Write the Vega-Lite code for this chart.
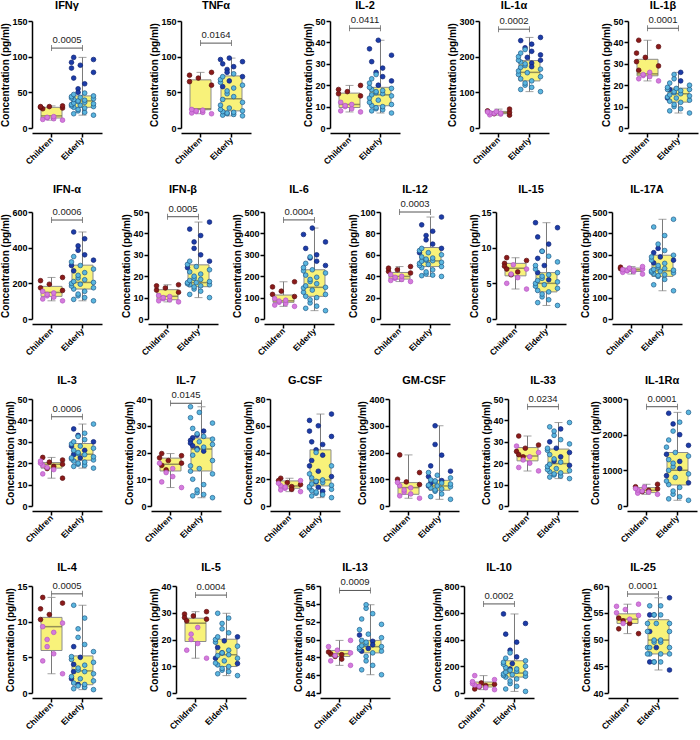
{
"background":"white",
"padding":{"left":0,"top":0,"right":2,"bottom":0},
"spacing":18,
"data":{"values":[
{"p":"IFNγ","d0":0,"d1":150,"b":112,"t":"0.0005"},
{"p":"TNFα","d0":0,"d1":150,"b":119,"t":"0.0164"},
{"p":"IL-2","d0":0,"d1":50,"b":46.6,"t":"0.0411"},
{"p":"IL-1α","d0":0,"d1":300,"b":277,"t":"0.0002"},
{"p":"IL-1β","d0":0,"d1":50,"b":46.6,"t":"0.0001"},
{"p":"IFN-α","d0":0,"d1":600,"b":555,"t":"0.0006"},
{"p":"IFN-β","d0":0,"d1":50,"b":47.8,"t":"0.0005"},
{"p":"IL-6","d0":0,"d1":500,"b":463,"t":"0.0004"},
{"p":"IL-12","d0":0,"d1":100,"b":100,"t":"0.0003"},
{"p":"IL-15","d0":0,"d1":15},
{"p":"IL-17A","d0":0,"d1":500},
{"p":"IL-3","d0":0,"d1":50,"b":41.7,"t":"0.0006"},
{"p":"IL-7","d0":0,"d1":40,"b":38.4,"t":"0.0145"},
{"p":"G-CSF","d0":0,"d1":80},
{"p":"GM-CSF","d0":0,"d1":400},
{"p":"IL-33","d0":0,"d1":50,"b":46.4,"t":"0.0234"},
{"p":"IL-1Rα","d0":0,"d1":3000,"b":2784,"t":"0.0001"},
{"p":"IL-4","d0":0,"d1":15,"b":13.9,"t":"0.0005"},
{"p":"IL-5","d0":0,"d1":40,"b":36.6,"t":"0.0004"},
{"p":"IL-13","d0":44,"d1":56,"b":55.5,"t":"0.0009"},
{"p":"IL-10","d0":0,"d1":800,"b":666,"t":"0.0002"},
{"p":"IL-25","d0":40,"d1":60,"b":58.5,"t":"0.0001"},
{"p":"IFNγ","g":"Children","lo":11,"q1":14,"md":17,"q3":29,"hi":31},
{"p":"IFNγ","g":"Elderly","lo":18,"q1":29,"md":38,"q3":45,"hi":99},
{"p":"TNFα","g":"Children","lo":20,"q1":25.6,"md":27,"q3":67.5,"hi":78},
{"p":"TNFα","g":"Elderly","lo":17,"q1":24,"md":41,"q3":73,"hi":98},
{"p":"IL-2","g":"Children","lo":7.5,"q1":9.6,"md":11,"q3":16.3,"hi":19.9},
{"p":"IL-2","g":"Elderly","lo":7,"q1":10.4,"md":15.5,"q3":19,"hi":41},
{"p":"IL-1α","g":"Children","lo":36,"q1":40,"md":43,"q3":46.6,"hi":53},
{"p":"IL-1α","g":"Elderly","lo":102,"q1":132,"md":156,"q3":189,"hi":254},
{"p":"IL-1β","g":"Children","lo":22,"q1":24.4,"md":25.3,"q3":32.1,"hi":41},
{"p":"IL-1β","g":"Elderly","lo":7,"q1":12.1,"md":16,"q3":18.6,"hi":26},
{"p":"IFN-α","g":"Children","lo":102,"q1":127,"md":149,"q3":183,"hi":233},
{"p":"IFN-α","g":"Elderly","lo":102,"q1":168,"md":205,"q3":302,"hi":488},
{"p":"IFN-β","g":"Children","lo":8,"q1":9,"md":10.6,"q3":13.7,"hi":16},
{"p":"IFN-β","g":"Elderly","lo":10,"q1":15.1,"md":17,"q3":25.3,"hi":45.3},
{"p":"IL-6","g":"Children","lo":59,"q1":78,"md":85,"q3":112,"hi":174},
{"p":"IL-6","g":"Elderly","lo":39,"q1":106,"md":148,"q3":230,"hi":425},
{"p":"IL-12","g":"Children","lo":35,"q1":37.3,"md":39.8,"q3":43.5,"hi":49},
{"p":"IL-12","g":"Elderly","lo":39.8,"q1":49,"md":54.3,"q3":66.8,"hi":95.3},
{"p":"IL-15","g":"Children","lo":4.2,"q1":6.05,"md":7.1,"q3":7.8,"hi":8.6},
{"p":"IL-15","g":"Elderly","lo":1.9,"q1":3.8,"md":5,"q3":6.5,"hi":13.5},
{"p":"IL-17A","g":"Children","lo":210,"q1":222,"md":230,"q3":238,"hi":245},
{"p":"IL-17A","g":"Elderly","lo":132,"q1":199,"md":225,"q3":298,"hi":466},
{"p":"IL-3","g":"Children","lo":13,"q1":17.7,"md":19.5,"q3":20.3,"hi":22.7},
{"p":"IL-3","g":"Elderly","lo":17.7,"q1":21.4,"md":24.2,"q3":29.2,"hi":38.3},
{"p":"IL-7","g":"Children","lo":6.9,"q1":13.1,"md":15.6,"q3":17.9,"hi":19.6},
{"p":"IL-7","g":"Elderly","lo":3.1,"q1":13.1,"md":21.3,"q3":25.4,"hi":37.1},
{"p":"G-CSF","g":"Children","lo":10.75,"q1":13.25,"md":15,"q3":18.75,"hi":20.75},
{"p":"G-CSF","g":"Elderly","lo":6.25,"q1":15,"md":19.5,"q3":42,"hi":68.75},
{"p":"GM-CSF","g":"Children","lo":29,"q1":43.75,"md":68.75,"q3":87.5,"hi":191},
{"p":"GM-CSF","g":"Elderly","lo":25,"q1":59,"md":75,"q3":96,"hi":300},
{"p":"IL-33","g":"Children","lo":16.4,"q1":21.1,"md":23.4,"q3":27.3,"hi":32.7},
{"p":"IL-33","g":"Elderly","lo":12.8,"q1":15.3,"md":19.8,"q3":26.6,"hi":39},
{"p":"IL-1Rα","g":"Children","lo":328,"q1":375,"md":440,"q3":516,"hi":609},
{"p":"IL-1Rα","g":"Elderly","lo":160,"q1":590,"md":1003,"q3":1500,"hi":2625},
{"p":"IL-4","g":"Children","lo":2.7,"q1":5.96,"md":9.3,"q3":10.6,"hi":13.4},
{"p":"IL-4","g":"Elderly","lo":0.47,"q1":1.16,"md":3.1,"q3":5.2,"hi":12.3},
{"p":"IL-5","g":"Children","lo":13,"q1":19.25,"md":26.1,"q3":27.95,"hi":30.4},
{"p":"IL-5","g":"Elderly","lo":6.5,"q1":9.9,"md":14.3,"q3":20.1,"hi":29.8},
{"p":"IL-13","g":"Children","lo":47.1,"q1":48.1,"md":48.4,"q3":48.77,"hi":49.9},
{"p":"IL-13","g":"Elderly","lo":46.05,"q1":48.5,"md":49.2,"q3":49.9,"hi":53.9},
{"p":"IL-10","g":"Children","lo":25,"q1":45,"md":62,"q3":82,"hi":130},
{"p":"IL-10","g":"Elderly","lo":12,"q1":119,"md":149,"q3":241,"hi":591},
{"p":"IL-25","g":"Children","lo":51.1,"q1":53,"md":53.8,"q3":54.8,"hi":56.6},
{"p":"IL-25","g":"Elderly","lo":44.3,"q1":47.3,"md":49.9,"q3":53.7,"hi":57.8},
{"p":"IFNγ","g":"Children","c":"a","v":27},{"p":"IFNγ","g":"Children","c":"a","v":28},{"p":"IFNγ","g":"Children","c":"a","v":29},{"p":"IFNγ","g":"Children","c":"a","v":30},{"p":"IFNγ","g":"Children","c":"a","v":30},{"p":"IFNγ","g":"Children","c":"a","v":31},
{"p":"IFNγ","g":"Children","c":"b","v":11},{"p":"IFNγ","g":"Children","c":"b","v":12},{"p":"IFNγ","g":"Children","c":"b","v":13},{"p":"IFNγ","g":"Children","c":"b","v":14},{"p":"IFNγ","g":"Children","c":"b","v":15},{"p":"IFNγ","g":"Children","c":"b","v":16},
{"p":"IFNγ","g":"Elderly","c":"a","v":99},{"p":"IFNγ","g":"Elderly","c":"a","v":96},{"p":"IFNγ","g":"Elderly","c":"a","v":92},{"p":"IFNγ","g":"Elderly","c":"a","v":88},{"p":"IFNγ","g":"Elderly","c":"a","v":84},{"p":"IFNγ","g":"Elderly","c":"a","v":78},{"p":"IFNγ","g":"Elderly","c":"a","v":70},{"p":"IFNγ","g":"Elderly","c":"a","v":62},{"p":"IFNγ","g":"Elderly","c":"a","v":55},{"p":"IFNγ","g":"Elderly","c":"a","v":50},
{"p":"IFNγ","g":"Elderly","c":"b","v":18},{"p":"IFNγ","g":"Elderly","c":"b","v":20},{"p":"IFNγ","g":"Elderly","c":"b","v":22},{"p":"IFNγ","g":"Elderly","c":"b","v":24},{"p":"IFNγ","g":"Elderly","c":"b","v":26},{"p":"IFNγ","g":"Elderly","c":"b","v":28},{"p":"IFNγ","g":"Elderly","c":"b","v":29},{"p":"IFNγ","g":"Elderly","c":"b","v":30},{"p":"IFNγ","g":"Elderly","c":"b","v":31},{"p":"IFNγ","g":"Elderly","c":"b","v":32},{"p":"IFNγ","g":"Elderly","c":"b","v":33},{"p":"IFNγ","g":"Elderly","c":"b","v":34},{"p":"IFNγ","g":"Elderly","c":"b","v":35},{"p":"IFNγ","g":"Elderly","c":"b","v":36},{"p":"IFNγ","g":"Elderly","c":"b","v":37},{"p":"IFNγ","g":"Elderly","c":"b","v":38},{"p":"IFNγ","g":"Elderly","c":"b","v":39},{"p":"IFNγ","g":"Elderly","c":"b","v":40},{"p":"IFNγ","g":"Elderly","c":"b","v":41},{"p":"IFNγ","g":"Elderly","c":"b","v":42},{"p":"IFNγ","g":"Elderly","c":"b","v":43},{"p":"IFNγ","g":"Elderly","c":"b","v":44},{"p":"IFNγ","g":"Elderly","c":"b","v":45},{"p":"IFNγ","g":"Elderly","c":"b","v":47},{"p":"IFNγ","g":"Elderly","c":"b","v":49},
{"p":"TNFα","g":"Children","c":"a","v":60},{"p":"TNFα","g":"Children","c":"a","v":65},{"p":"TNFα","g":"Children","c":"a","v":70},{"p":"TNFα","g":"Children","c":"a","v":74},{"p":"TNFα","g":"Children","c":"a","v":78},
{"p":"TNFα","g":"Children","c":"b","v":20},{"p":"TNFα","g":"Children","c":"b","v":21},{"p":"TNFα","g":"Children","c":"b","v":22},{"p":"TNFα","g":"Children","c":"b","v":23},{"p":"TNFα","g":"Children","c":"b","v":24},{"p":"TNFα","g":"Children","c":"b","v":25},{"p":"TNFα","g":"Children","c":"b","v":26},
{"p":"TNFα","g":"Elderly","c":"a","v":98},{"p":"TNFα","g":"Elderly","c":"a","v":96},{"p":"TNFα","g":"Elderly","c":"a","v":93},{"p":"TNFα","g":"Elderly","c":"a","v":90},{"p":"TNFα","g":"Elderly","c":"a","v":86},{"p":"TNFα","g":"Elderly","c":"a","v":82},{"p":"TNFα","g":"Elderly","c":"a","v":78},{"p":"TNFα","g":"Elderly","c":"a","v":72},{"p":"TNFα","g":"Elderly","c":"a","v":66},{"p":"TNFα","g":"Elderly","c":"a","v":58},
{"p":"TNFα","g":"Elderly","c":"b","v":17},{"p":"TNFα","g":"Elderly","c":"b","v":18},{"p":"TNFα","g":"Elderly","c":"b","v":19},{"p":"TNFα","g":"Elderly","c":"b","v":20},{"p":"TNFα","g":"Elderly","c":"b","v":21},{"p":"TNFα","g":"Elderly","c":"b","v":22},{"p":"TNFα","g":"Elderly","c":"b","v":23},{"p":"TNFα","g":"Elderly","c":"b","v":24},{"p":"TNFα","g":"Elderly","c":"b","v":26},{"p":"TNFα","g":"Elderly","c":"b","v":28},{"p":"TNFα","g":"Elderly","c":"b","v":32},{"p":"TNFα","g":"Elderly","c":"b","v":36},{"p":"TNFα","g":"Elderly","c":"b","v":40},{"p":"TNFα","g":"Elderly","c":"b","v":44},{"p":"TNFα","g":"Elderly","c":"b","v":48},{"p":"TNFα","g":"Elderly","c":"b","v":52},{"p":"TNFα","g":"Elderly","c":"b","v":56},{"p":"TNFα","g":"Elderly","c":"b","v":60},{"p":"TNFα","g":"Elderly","c":"b","v":64},{"p":"TNFα","g":"Elderly","c":"b","v":68},{"p":"TNFα","g":"Elderly","c":"b","v":72},{"p":"TNFα","g":"Elderly","c":"b","v":76},
{"p":"IL-2","g":"Children","c":"a","v":15},{"p":"IL-2","g":"Children","c":"a","v":16},{"p":"IL-2","g":"Children","c":"a","v":17},{"p":"IL-2","g":"Children","c":"a","v":18},{"p":"IL-2","g":"Children","c":"a","v":19.9},
{"p":"IL-2","g":"Children","c":"b","v":7.5},{"p":"IL-2","g":"Children","c":"b","v":8},{"p":"IL-2","g":"Children","c":"b","v":9},{"p":"IL-2","g":"Children","c":"b","v":10},{"p":"IL-2","g":"Children","c":"b","v":10.5},{"p":"IL-2","g":"Children","c":"b","v":11},{"p":"IL-2","g":"Children","c":"b","v":12},
{"p":"IL-2","g":"Elderly","c":"a","v":41},{"p":"IL-2","g":"Elderly","c":"a","v":37},{"p":"IL-2","g":"Elderly","c":"a","v":34},{"p":"IL-2","g":"Elderly","c":"a","v":31},{"p":"IL-2","g":"Elderly","c":"a","v":28},{"p":"IL-2","g":"Elderly","c":"a","v":26},{"p":"IL-2","g":"Elderly","c":"a","v":24},{"p":"IL-2","g":"Elderly","c":"a","v":22},{"p":"IL-2","g":"Elderly","c":"a","v":20},
{"p":"IL-2","g":"Elderly","c":"b","v":7},{"p":"IL-2","g":"Elderly","c":"b","v":8},{"p":"IL-2","g":"Elderly","c":"b","v":8.5},{"p":"IL-2","g":"Elderly","c":"b","v":9},{"p":"IL-2","g":"Elderly","c":"b","v":9.5},{"p":"IL-2","g":"Elderly","c":"b","v":10},{"p":"IL-2","g":"Elderly","c":"b","v":10.5},{"p":"IL-2","g":"Elderly","c":"b","v":11},{"p":"IL-2","g":"Elderly","c":"b","v":12},{"p":"IL-2","g":"Elderly","c":"b","v":13},{"p":"IL-2","g":"Elderly","c":"b","v":14},{"p":"IL-2","g":"Elderly","c":"b","v":15},{"p":"IL-2","g":"Elderly","c":"b","v":15.5},{"p":"IL-2","g":"Elderly","c":"b","v":16},{"p":"IL-2","g":"Elderly","c":"b","v":16.5},{"p":"IL-2","g":"Elderly","c":"b","v":17},{"p":"IL-2","g":"Elderly","c":"b","v":17.5},{"p":"IL-2","g":"Elderly","c":"b","v":18},{"p":"IL-2","g":"Elderly","c":"b","v":18.5},{"p":"IL-2","g":"Elderly","c":"b","v":19},{"p":"IL-2","g":"Elderly","c":"b","v":21},{"p":"IL-2","g":"Elderly","c":"b","v":23},{"p":"IL-2","g":"Elderly","c":"b","v":25},
{"p":"IL-1α","g":"Children","c":"a","v":36},{"p":"IL-1α","g":"Children","c":"a","v":40},{"p":"IL-1α","g":"Children","c":"a","v":44},{"p":"IL-1α","g":"Children","c":"a","v":48},{"p":"IL-1α","g":"Children","c":"a","v":53},
{"p":"IL-1α","g":"Children","c":"b","v":37},{"p":"IL-1α","g":"Children","c":"b","v":39},{"p":"IL-1α","g":"Children","c":"b","v":41},{"p":"IL-1α","g":"Children","c":"b","v":42},{"p":"IL-1α","g":"Children","c":"b","v":43},{"p":"IL-1α","g":"Children","c":"b","v":45},{"p":"IL-1α","g":"Children","c":"b","v":46},
{"p":"IL-1α","g":"Elderly","c":"a","v":254},{"p":"IL-1α","g":"Elderly","c":"a","v":245},{"p":"IL-1α","g":"Elderly","c":"a","v":235},{"p":"IL-1α","g":"Elderly","c":"a","v":225},{"p":"IL-1α","g":"Elderly","c":"a","v":215},{"p":"IL-1α","g":"Elderly","c":"a","v":205},{"p":"IL-1α","g":"Elderly","c":"a","v":198},{"p":"IL-1α","g":"Elderly","c":"a","v":190},{"p":"IL-1α","g":"Elderly","c":"a","v":182},{"p":"IL-1α","g":"Elderly","c":"a","v":172},
{"p":"IL-1α","g":"Elderly","c":"b","v":102},{"p":"IL-1α","g":"Elderly","c":"b","v":108},{"p":"IL-1α","g":"Elderly","c":"b","v":114},{"p":"IL-1α","g":"Elderly","c":"b","v":120},{"p":"IL-1α","g":"Elderly","c":"b","v":126},{"p":"IL-1α","g":"Elderly","c":"b","v":132},{"p":"IL-1α","g":"Elderly","c":"b","v":138},{"p":"IL-1α","g":"Elderly","c":"b","v":144},{"p":"IL-1α","g":"Elderly","c":"b","v":150},{"p":"IL-1α","g":"Elderly","c":"b","v":155},{"p":"IL-1α","g":"Elderly","c":"b","v":160},{"p":"IL-1α","g":"Elderly","c":"b","v":165},{"p":"IL-1α","g":"Elderly","c":"b","v":170},{"p":"IL-1α","g":"Elderly","c":"b","v":175},{"p":"IL-1α","g":"Elderly","c":"b","v":180},{"p":"IL-1α","g":"Elderly","c":"b","v":185},{"p":"IL-1α","g":"Elderly","c":"b","v":190},{"p":"IL-1α","g":"Elderly","c":"b","v":200},{"p":"IL-1α","g":"Elderly","c":"b","v":210},{"p":"IL-1α","g":"Elderly","c":"b","v":220},
{"p":"IL-1β","g":"Children","c":"a","v":41},{"p":"IL-1β","g":"Children","c":"a","v":38},{"p":"IL-1β","g":"Children","c":"a","v":35},{"p":"IL-1β","g":"Children","c":"a","v":33},{"p":"IL-1β","g":"Children","c":"a","v":31},{"p":"IL-1β","g":"Children","c":"a","v":29},{"p":"IL-1β","g":"Children","c":"a","v":27},
{"p":"IL-1β","g":"Children","c":"b","v":22},{"p":"IL-1β","g":"Children","c":"b","v":23},{"p":"IL-1β","g":"Children","c":"b","v":24},{"p":"IL-1β","g":"Children","c":"b","v":24.5},{"p":"IL-1β","g":"Children","c":"b","v":25},{"p":"IL-1β","g":"Children","c":"b","v":26},
{"p":"IL-1β","g":"Elderly","c":"a","v":26},{"p":"IL-1β","g":"Elderly","c":"a","v":22},{"p":"IL-1β","g":"Elderly","c":"a","v":18},{"p":"IL-1β","g":"Elderly","c":"a","v":14},
{"p":"IL-1β","g":"Elderly","c":"b","v":7},{"p":"IL-1β","g":"Elderly","c":"b","v":8},{"p":"IL-1β","g":"Elderly","c":"b","v":9},{"p":"IL-1β","g":"Elderly","c":"b","v":10},{"p":"IL-1β","g":"Elderly","c":"b","v":11},{"p":"IL-1β","g":"Elderly","c":"b","v":12},{"p":"IL-1β","g":"Elderly","c":"b","v":12.5},{"p":"IL-1β","g":"Elderly","c":"b","v":13},{"p":"IL-1β","g":"Elderly","c":"b","v":14},{"p":"IL-1β","g":"Elderly","c":"b","v":14.5},{"p":"IL-1β","g":"Elderly","c":"b","v":15},{"p":"IL-1β","g":"Elderly","c":"b","v":15.5},{"p":"IL-1β","g":"Elderly","c":"b","v":16},{"p":"IL-1β","g":"Elderly","c":"b","v":16.5},{"p":"IL-1β","g":"Elderly","c":"b","v":17},{"p":"IL-1β","g":"Elderly","c":"b","v":17.5},{"p":"IL-1β","g":"Elderly","c":"b","v":18},{"p":"IL-1β","g":"Elderly","c":"b","v":18},{"p":"IL-1β","g":"Elderly","c":"b","v":18.5},{"p":"IL-1β","g":"Elderly","c":"b","v":19},{"p":"IL-1β","g":"Elderly","c":"b","v":20},{"p":"IL-1β","g":"Elderly","c":"b","v":21},{"p":"IL-1β","g":"Elderly","c":"b","v":23},{"p":"IL-1β","g":"Elderly","c":"b","v":25},
{"p":"IFN-α","g":"Children","c":"a","v":233},{"p":"IFN-α","g":"Children","c":"a","v":215},{"p":"IFN-α","g":"Children","c":"a","v":195},{"p":"IFN-α","g":"Children","c":"a","v":175},{"p":"IFN-α","g":"Children","c":"a","v":160},
{"p":"IFN-α","g":"Children","c":"b","v":102},{"p":"IFN-α","g":"Children","c":"b","v":112},{"p":"IFN-α","g":"Children","c":"b","v":122},{"p":"IFN-α","g":"Children","c":"b","v":130},{"p":"IFN-α","g":"Children","c":"b","v":138},{"p":"IFN-α","g":"Children","c":"b","v":146},{"p":"IFN-α","g":"Children","c":"b","v":155},
{"p":"IFN-α","g":"Elderly","c":"a","v":488},{"p":"IFN-α","g":"Elderly","c":"a","v":450},{"p":"IFN-α","g":"Elderly","c":"a","v":410},{"p":"IFN-α","g":"Elderly","c":"a","v":385},{"p":"IFN-α","g":"Elderly","c":"a","v":360},{"p":"IFN-α","g":"Elderly","c":"a","v":330},{"p":"IFN-α","g":"Elderly","c":"a","v":300},{"p":"IFN-α","g":"Elderly","c":"a","v":270},
{"p":"IFN-α","g":"Elderly","c":"b","v":102},{"p":"IFN-α","g":"Elderly","c":"b","v":110},{"p":"IFN-α","g":"Elderly","c":"b","v":120},{"p":"IFN-α","g":"Elderly","c":"b","v":130},{"p":"IFN-α","g":"Elderly","c":"b","v":140},{"p":"IFN-α","g":"Elderly","c":"b","v":155},{"p":"IFN-α","g":"Elderly","c":"b","v":168},{"p":"IFN-α","g":"Elderly","c":"b","v":175},{"p":"IFN-α","g":"Elderly","c":"b","v":185},{"p":"IFN-α","g":"Elderly","c":"b","v":195},{"p":"IFN-α","g":"Elderly","c":"b","v":200},{"p":"IFN-α","g":"Elderly","c":"b","v":205},{"p":"IFN-α","g":"Elderly","c":"b","v":210},{"p":"IFN-α","g":"Elderly","c":"b","v":220},{"p":"IFN-α","g":"Elderly","c":"b","v":230},{"p":"IFN-α","g":"Elderly","c":"b","v":245},{"p":"IFN-α","g":"Elderly","c":"b","v":260},{"p":"IFN-α","g":"Elderly","c":"b","v":280},{"p":"IFN-α","g":"Elderly","c":"b","v":300},{"p":"IFN-α","g":"Elderly","c":"b","v":320},{"p":"IFN-α","g":"Elderly","c":"b","v":350},
{"p":"IFN-β","g":"Children","c":"a","v":12.5},{"p":"IFN-β","g":"Children","c":"a","v":13.5},{"p":"IFN-β","g":"Children","c":"a","v":14.5},{"p":"IFN-β","g":"Children","c":"a","v":15.5},{"p":"IFN-β","g":"Children","c":"a","v":16},
{"p":"IFN-β","g":"Children","c":"b","v":8},{"p":"IFN-β","g":"Children","c":"b","v":8.5},{"p":"IFN-β","g":"Children","c":"b","v":9},{"p":"IFN-β","g":"Children","c":"b","v":9.5},{"p":"IFN-β","g":"Children","c":"b","v":10},{"p":"IFN-β","g":"Children","c":"b","v":10.5},{"p":"IFN-β","g":"Children","c":"b","v":11},
{"p":"IFN-β","g":"Elderly","c":"a","v":45.3},{"p":"IFN-β","g":"Elderly","c":"a","v":42},{"p":"IFN-β","g":"Elderly","c":"a","v":39},{"p":"IFN-β","g":"Elderly","c":"a","v":36},{"p":"IFN-β","g":"Elderly","c":"a","v":33},{"p":"IFN-β","g":"Elderly","c":"a","v":30},{"p":"IFN-β","g":"Elderly","c":"a","v":27},{"p":"IFN-β","g":"Elderly","c":"a","v":24},
{"p":"IFN-β","g":"Elderly","c":"b","v":10},{"p":"IFN-β","g":"Elderly","c":"b","v":11.5},{"p":"IFN-β","g":"Elderly","c":"b","v":13},{"p":"IFN-β","g":"Elderly","c":"b","v":14},{"p":"IFN-β","g":"Elderly","c":"b","v":15},{"p":"IFN-β","g":"Elderly","c":"b","v":15.5},{"p":"IFN-β","g":"Elderly","c":"b","v":16},{"p":"IFN-β","g":"Elderly","c":"b","v":16},{"p":"IFN-β","g":"Elderly","c":"b","v":16.5},{"p":"IFN-β","g":"Elderly","c":"b","v":17},{"p":"IFN-β","g":"Elderly","c":"b","v":17},{"p":"IFN-β","g":"Elderly","c":"b","v":17.5},{"p":"IFN-β","g":"Elderly","c":"b","v":18},{"p":"IFN-β","g":"Elderly","c":"b","v":18.5},{"p":"IFN-β","g":"Elderly","c":"b","v":19},{"p":"IFN-β","g":"Elderly","c":"b","v":20},{"p":"IFN-β","g":"Elderly","c":"b","v":21},{"p":"IFN-β","g":"Elderly","c":"b","v":22},{"p":"IFN-β","g":"Elderly","c":"b","v":23},{"p":"IFN-β","g":"Elderly","c":"b","v":24.5},{"p":"IFN-β","g":"Elderly","c":"b","v":25.5},{"p":"IFN-β","g":"Elderly","c":"b","v":27},
{"p":"IL-6","g":"Children","c":"a","v":174},{"p":"IL-6","g":"Children","c":"a","v":150},{"p":"IL-6","g":"Children","c":"a","v":130},{"p":"IL-6","g":"Children","c":"a","v":115},{"p":"IL-6","g":"Children","c":"a","v":105},
{"p":"IL-6","g":"Children","c":"b","v":59},{"p":"IL-6","g":"Children","c":"b","v":65},{"p":"IL-6","g":"Children","c":"b","v":72},{"p":"IL-6","g":"Children","c":"b","v":78},{"p":"IL-6","g":"Children","c":"b","v":84},{"p":"IL-6","g":"Children","c":"b","v":88},{"p":"IL-6","g":"Children","c":"b","v":95},
{"p":"IL-6","g":"Elderly","c":"a","v":425},{"p":"IL-6","g":"Elderly","c":"a","v":395},{"p":"IL-6","g":"Elderly","c":"a","v":360},{"p":"IL-6","g":"Elderly","c":"a","v":330},{"p":"IL-6","g":"Elderly","c":"a","v":300},{"p":"IL-6","g":"Elderly","c":"a","v":285},{"p":"IL-6","g":"Elderly","c":"a","v":270},{"p":"IL-6","g":"Elderly","c":"a","v":250},
{"p":"IL-6","g":"Elderly","c":"b","v":39},{"p":"IL-6","g":"Elderly","c":"b","v":50},{"p":"IL-6","g":"Elderly","c":"b","v":60},{"p":"IL-6","g":"Elderly","c":"b","v":75},{"p":"IL-6","g":"Elderly","c":"b","v":90},{"p":"IL-6","g":"Elderly","c":"b","v":100},{"p":"IL-6","g":"Elderly","c":"b","v":106},{"p":"IL-6","g":"Elderly","c":"b","v":115},{"p":"IL-6","g":"Elderly","c":"b","v":125},{"p":"IL-6","g":"Elderly","c":"b","v":135},{"p":"IL-6","g":"Elderly","c":"b","v":145},{"p":"IL-6","g":"Elderly","c":"b","v":148},{"p":"IL-6","g":"Elderly","c":"b","v":155},{"p":"IL-6","g":"Elderly","c":"b","v":165},{"p":"IL-6","g":"Elderly","c":"b","v":175},{"p":"IL-6","g":"Elderly","c":"b","v":185},{"p":"IL-6","g":"Elderly","c":"b","v":195},{"p":"IL-6","g":"Elderly","c":"b","v":205},{"p":"IL-6","g":"Elderly","c":"b","v":215},{"p":"IL-6","g":"Elderly","c":"b","v":225},{"p":"IL-6","g":"Elderly","c":"b","v":230},{"p":"IL-6","g":"Elderly","c":"b","v":240},{"p":"IL-6","g":"Elderly","c":"b","v":260},{"p":"IL-6","g":"Elderly","c":"b","v":290},
{"p":"IL-12","g":"Children","c":"a","v":43},{"p":"IL-12","g":"Children","c":"a","v":44.5},{"p":"IL-12","g":"Children","c":"a","v":46},{"p":"IL-12","g":"Children","c":"a","v":47.5},{"p":"IL-12","g":"Children","c":"a","v":49},
{"p":"IL-12","g":"Children","c":"b","v":35},{"p":"IL-12","g":"Children","c":"b","v":36},{"p":"IL-12","g":"Children","c":"b","v":37},{"p":"IL-12","g":"Children","c":"b","v":38},{"p":"IL-12","g":"Children","c":"b","v":39},{"p":"IL-12","g":"Children","c":"b","v":40},{"p":"IL-12","g":"Children","c":"b","v":41.5},
{"p":"IL-12","g":"Elderly","c":"a","v":95.3},{"p":"IL-12","g":"Elderly","c":"a","v":88},{"p":"IL-12","g":"Elderly","c":"a","v":82},{"p":"IL-12","g":"Elderly","c":"a","v":78},{"p":"IL-12","g":"Elderly","c":"a","v":74},{"p":"IL-12","g":"Elderly","c":"a","v":70},{"p":"IL-12","g":"Elderly","c":"a","v":66},{"p":"IL-12","g":"Elderly","c":"a","v":62},
{"p":"IL-12","g":"Elderly","c":"b","v":39.8},{"p":"IL-12","g":"Elderly","c":"b","v":40.5},{"p":"IL-12","g":"Elderly","c":"b","v":41},{"p":"IL-12","g":"Elderly","c":"b","v":42},{"p":"IL-12","g":"Elderly","c":"b","v":44},{"p":"IL-12","g":"Elderly","c":"b","v":46},{"p":"IL-12","g":"Elderly","c":"b","v":48},{"p":"IL-12","g":"Elderly","c":"b","v":49},{"p":"IL-12","g":"Elderly","c":"b","v":50},{"p":"IL-12","g":"Elderly","c":"b","v":51},{"p":"IL-12","g":"Elderly","c":"b","v":52},{"p":"IL-12","g":"Elderly","c":"b","v":53},{"p":"IL-12","g":"Elderly","c":"b","v":54},{"p":"IL-12","g":"Elderly","c":"b","v":54.5},{"p":"IL-12","g":"Elderly","c":"b","v":55},{"p":"IL-12","g":"Elderly","c":"b","v":56},{"p":"IL-12","g":"Elderly","c":"b","v":57},{"p":"IL-12","g":"Elderly","c":"b","v":58},{"p":"IL-12","g":"Elderly","c":"b","v":60},{"p":"IL-12","g":"Elderly","c":"b","v":62},{"p":"IL-12","g":"Elderly","c":"b","v":64},{"p":"IL-12","g":"Elderly","c":"b","v":66},
{"p":"IL-15","g":"Children","c":"a","v":8.6},{"p":"IL-15","g":"Children","c":"a","v":8.2},{"p":"IL-15","g":"Children","c":"a","v":7.8},{"p":"IL-15","g":"Children","c":"a","v":7.4},{"p":"IL-15","g":"Children","c":"a","v":7},{"p":"IL-15","g":"Children","c":"a","v":6.6},{"p":"IL-15","g":"Children","c":"a","v":6.2},
{"p":"IL-15","g":"Children","c":"b","v":4.2},{"p":"IL-15","g":"Children","c":"b","v":5},{"p":"IL-15","g":"Children","c":"b","v":5.8},{"p":"IL-15","g":"Children","c":"b","v":6.3},{"p":"IL-15","g":"Children","c":"b","v":7},{"p":"IL-15","g":"Children","c":"b","v":7.6},
{"p":"IL-15","g":"Elderly","c":"a","v":13.5},{"p":"IL-15","g":"Elderly","c":"a","v":12.8},{"p":"IL-15","g":"Elderly","c":"a","v":11.5},{"p":"IL-15","g":"Elderly","c":"a","v":10.5},{"p":"IL-15","g":"Elderly","c":"a","v":9.5},{"p":"IL-15","g":"Elderly","c":"a","v":8.5},{"p":"IL-15","g":"Elderly","c":"a","v":7.5},{"p":"IL-15","g":"Elderly","c":"a","v":6.5},{"p":"IL-15","g":"Elderly","c":"a","v":5.5},
{"p":"IL-15","g":"Elderly","c":"b","v":1.9},{"p":"IL-15","g":"Elderly","c":"b","v":2.3},{"p":"IL-15","g":"Elderly","c":"b","v":2.7},{"p":"IL-15","g":"Elderly","c":"b","v":3.1},{"p":"IL-15","g":"Elderly","c":"b","v":3.5},{"p":"IL-15","g":"Elderly","c":"b","v":3.8},{"p":"IL-15","g":"Elderly","c":"b","v":4},{"p":"IL-15","g":"Elderly","c":"b","v":4.3},{"p":"IL-15","g":"Elderly","c":"b","v":4.6},{"p":"IL-15","g":"Elderly","c":"b","v":4.8},{"p":"IL-15","g":"Elderly","c":"b","v":5},{"p":"IL-15","g":"Elderly","c":"b","v":5.2},{"p":"IL-15","g":"Elderly","c":"b","v":5.4},{"p":"IL-15","g":"Elderly","c":"b","v":5.7},{"p":"IL-15","g":"Elderly","c":"b","v":6},{"p":"IL-15","g":"Elderly","c":"b","v":6.2},{"p":"IL-15","g":"Elderly","c":"b","v":6.5},{"p":"IL-15","g":"Elderly","c":"b","v":7},{"p":"IL-15","g":"Elderly","c":"b","v":7.5},{"p":"IL-15","g":"Elderly","c":"b","v":8},{"p":"IL-15","g":"Elderly","c":"b","v":8.8},{"p":"IL-15","g":"Elderly","c":"b","v":9.5},
{"p":"IL-17A","g":"Children","c":"a","v":235},{"p":"IL-17A","g":"Children","c":"a","v":242},
{"p":"IL-17A","g":"Children","c":"b","v":210},{"p":"IL-17A","g":"Children","c":"b","v":218},{"p":"IL-17A","g":"Children","c":"b","v":222},{"p":"IL-17A","g":"Children","c":"b","v":225},{"p":"IL-17A","g":"Children","c":"b","v":227},{"p":"IL-17A","g":"Children","c":"b","v":229},{"p":"IL-17A","g":"Children","c":"b","v":231},{"p":"IL-17A","g":"Children","c":"b","v":233},{"p":"IL-17A","g":"Children","c":"b","v":238},{"p":"IL-17A","g":"Children","c":"b","v":245},
{"p":"IL-17A","g":"Elderly","c":"a","v":330},{"p":"IL-17A","g":"Elderly","c":"a","v":310},{"p":"IL-17A","g":"Elderly","c":"a","v":290},{"p":"IL-17A","g":"Elderly","c":"a","v":275},{"p":"IL-17A","g":"Elderly","c":"a","v":262},
{"p":"IL-17A","g":"Elderly","c":"b","v":132},{"p":"IL-17A","g":"Elderly","c":"b","v":160},{"p":"IL-17A","g":"Elderly","c":"b","v":185},{"p":"IL-17A","g":"Elderly","c":"b","v":199},{"p":"IL-17A","g":"Elderly","c":"b","v":203},{"p":"IL-17A","g":"Elderly","c":"b","v":207},{"p":"IL-17A","g":"Elderly","c":"b","v":211},{"p":"IL-17A","g":"Elderly","c":"b","v":215},{"p":"IL-17A","g":"Elderly","c":"b","v":219},{"p":"IL-17A","g":"Elderly","c":"b","v":223},{"p":"IL-17A","g":"Elderly","c":"b","v":225},{"p":"IL-17A","g":"Elderly","c":"b","v":228},{"p":"IL-17A","g":"Elderly","c":"b","v":232},{"p":"IL-17A","g":"Elderly","c":"b","v":236},{"p":"IL-17A","g":"Elderly","c":"b","v":242},{"p":"IL-17A","g":"Elderly","c":"b","v":250},{"p":"IL-17A","g":"Elderly","c":"b","v":260},{"p":"IL-17A","g":"Elderly","c":"b","v":275},{"p":"IL-17A","g":"Elderly","c":"b","v":290},{"p":"IL-17A","g":"Elderly","c":"b","v":298},{"p":"IL-17A","g":"Elderly","c":"b","v":320},{"p":"IL-17A","g":"Elderly","c":"b","v":350},{"p":"IL-17A","g":"Elderly","c":"b","v":390},{"p":"IL-17A","g":"Elderly","c":"b","v":430},{"p":"IL-17A","g":"Elderly","c":"b","v":466},
{"p":"IL-3","g":"Children","c":"a","v":22.7},{"p":"IL-3","g":"Children","c":"a","v":21.5},{"p":"IL-3","g":"Children","c":"a","v":20.5},{"p":"IL-3","g":"Children","c":"a","v":19.5},{"p":"IL-3","g":"Children","c":"a","v":18.5},{"p":"IL-3","g":"Children","c":"a","v":17.5},{"p":"IL-3","g":"Children","c":"a","v":13},
{"p":"IL-3","g":"Children","c":"b","v":15},{"p":"IL-3","g":"Children","c":"b","v":17},{"p":"IL-3","g":"Children","c":"b","v":18},{"p":"IL-3","g":"Children","c":"b","v":19},{"p":"IL-3","g":"Children","c":"b","v":20},{"p":"IL-3","g":"Children","c":"b","v":21},
{"p":"IL-3","g":"Elderly","c":"a","v":36},{"p":"IL-3","g":"Elderly","c":"a","v":33},{"p":"IL-3","g":"Elderly","c":"a","v":30},{"p":"IL-3","g":"Elderly","c":"a","v":28},{"p":"IL-3","g":"Elderly","c":"a","v":26},{"p":"IL-3","g":"Elderly","c":"a","v":24},{"p":"IL-3","g":"Elderly","c":"a","v":22.5},
{"p":"IL-3","g":"Elderly","c":"b","v":17.7},{"p":"IL-3","g":"Elderly","c":"b","v":18.5},{"p":"IL-3","g":"Elderly","c":"b","v":19},{"p":"IL-3","g":"Elderly","c":"b","v":19.5},{"p":"IL-3","g":"Elderly","c":"b","v":20},{"p":"IL-3","g":"Elderly","c":"b","v":20.5},{"p":"IL-3","g":"Elderly","c":"b","v":21},{"p":"IL-3","g":"Elderly","c":"b","v":21.5},{"p":"IL-3","g":"Elderly","c":"b","v":22},{"p":"IL-3","g":"Elderly","c":"b","v":22.5},{"p":"IL-3","g":"Elderly","c":"b","v":23},{"p":"IL-3","g":"Elderly","c":"b","v":24},{"p":"IL-3","g":"Elderly","c":"b","v":24.5},{"p":"IL-3","g":"Elderly","c":"b","v":25},{"p":"IL-3","g":"Elderly","c":"b","v":26},{"p":"IL-3","g":"Elderly","c":"b","v":27},{"p":"IL-3","g":"Elderly","c":"b","v":28},{"p":"IL-3","g":"Elderly","c":"b","v":29},{"p":"IL-3","g":"Elderly","c":"b","v":30},{"p":"IL-3","g":"Elderly","c":"b","v":31},{"p":"IL-3","g":"Elderly","c":"b","v":32.5},{"p":"IL-3","g":"Elderly","c":"b","v":34},{"p":"IL-3","g":"Elderly","c":"b","v":38.3},
{"p":"IL-7","g":"Children","c":"a","v":19.6},{"p":"IL-7","g":"Children","c":"a","v":18.8},{"p":"IL-7","g":"Children","c":"a","v":18},{"p":"IL-7","g":"Children","c":"a","v":17},{"p":"IL-7","g":"Children","c":"a","v":16},{"p":"IL-7","g":"Children","c":"a","v":15.2},{"p":"IL-7","g":"Children","c":"a","v":13.5},
{"p":"IL-7","g":"Children","c":"b","v":6.9},{"p":"IL-7","g":"Children","c":"b","v":9},{"p":"IL-7","g":"Children","c":"b","v":11},{"p":"IL-7","g":"Children","c":"b","v":12.5},{"p":"IL-7","g":"Children","c":"b","v":14},{"p":"IL-7","g":"Children","c":"b","v":16},
{"p":"IL-7","g":"Elderly","c":"a","v":28},{"p":"IL-7","g":"Elderly","c":"a","v":26.5},{"p":"IL-7","g":"Elderly","c":"a","v":25.5},{"p":"IL-7","g":"Elderly","c":"a","v":24.5},{"p":"IL-7","g":"Elderly","c":"a","v":23.5},{"p":"IL-7","g":"Elderly","c":"a","v":22.5},{"p":"IL-7","g":"Elderly","c":"a","v":21.5},{"p":"IL-7","g":"Elderly","c":"a","v":20.5},
{"p":"IL-7","g":"Elderly","c":"b","v":3.1},{"p":"IL-7","g":"Elderly","c":"b","v":3.8},{"p":"IL-7","g":"Elderly","c":"b","v":4.3},{"p":"IL-7","g":"Elderly","c":"b","v":5},{"p":"IL-7","g":"Elderly","c":"b","v":6},{"p":"IL-7","g":"Elderly","c":"b","v":8},{"p":"IL-7","g":"Elderly","c":"b","v":10},{"p":"IL-7","g":"Elderly","c":"b","v":12},{"p":"IL-7","g":"Elderly","c":"b","v":13},{"p":"IL-7","g":"Elderly","c":"b","v":14},{"p":"IL-7","g":"Elderly","c":"b","v":15},{"p":"IL-7","g":"Elderly","c":"b","v":17},{"p":"IL-7","g":"Elderly","c":"b","v":19},{"p":"IL-7","g":"Elderly","c":"b","v":21},{"p":"IL-7","g":"Elderly","c":"b","v":22},{"p":"IL-7","g":"Elderly","c":"b","v":23},{"p":"IL-7","g":"Elderly","c":"b","v":24},{"p":"IL-7","g":"Elderly","c":"b","v":25},{"p":"IL-7","g":"Elderly","c":"b","v":26},{"p":"IL-7","g":"Elderly","c":"b","v":27},{"p":"IL-7","g":"Elderly","c":"b","v":29},{"p":"IL-7","g":"Elderly","c":"b","v":31},{"p":"IL-7","g":"Elderly","c":"b","v":33},{"p":"IL-7","g":"Elderly","c":"b","v":35},{"p":"IL-7","g":"Elderly","c":"b","v":37.1},
{"p":"G-CSF","g":"Children","c":"a","v":20.75},{"p":"G-CSF","g":"Children","c":"a","v":19},{"p":"G-CSF","g":"Children","c":"a","v":17.5},{"p":"G-CSF","g":"Children","c":"a","v":16},{"p":"G-CSF","g":"Children","c":"a","v":14.5},{"p":"G-CSF","g":"Children","c":"a","v":12.5},
{"p":"G-CSF","g":"Children","c":"b","v":10.75},{"p":"G-CSF","g":"Children","c":"b","v":12},{"p":"G-CSF","g":"Children","c":"b","v":13.2},{"p":"G-CSF","g":"Children","c":"b","v":14.2},{"p":"G-CSF","g":"Children","c":"b","v":15.2},{"p":"G-CSF","g":"Children","c":"b","v":17},{"p":"G-CSF","g":"Children","c":"b","v":19},
{"p":"G-CSF","g":"Elderly","c":"a","v":68.75},{"p":"G-CSF","g":"Elderly","c":"a","v":64},{"p":"G-CSF","g":"Elderly","c":"a","v":60},{"p":"G-CSF","g":"Elderly","c":"a","v":56},{"p":"G-CSF","g":"Elderly","c":"a","v":52},{"p":"G-CSF","g":"Elderly","c":"a","v":48},{"p":"G-CSF","g":"Elderly","c":"a","v":46},{"p":"G-CSF","g":"Elderly","c":"a","v":42},{"p":"G-CSF","g":"Elderly","c":"a","v":38},{"p":"G-CSF","g":"Elderly","c":"a","v":34},{"p":"G-CSF","g":"Elderly","c":"a","v":30},{"p":"G-CSF","g":"Elderly","c":"a","v":26},{"p":"G-CSF","g":"Elderly","c":"a","v":22},{"p":"G-CSF","g":"Elderly","c":"a","v":18},{"p":"G-CSF","g":"Elderly","c":"a","v":14},{"p":"G-CSF","g":"Elderly","c":"a","v":11},
{"p":"G-CSF","g":"Elderly","c":"b","v":6.25},{"p":"G-CSF","g":"Elderly","c":"b","v":7.5},{"p":"G-CSF","g":"Elderly","c":"b","v":8.5},{"p":"G-CSF","g":"Elderly","c":"b","v":9.5},{"p":"G-CSF","g":"Elderly","c":"b","v":10.5},{"p":"G-CSF","g":"Elderly","c":"b","v":11.5},{"p":"G-CSF","g":"Elderly","c":"b","v":12.5},{"p":"G-CSF","g":"Elderly","c":"b","v":13.5},{"p":"G-CSF","g":"Elderly","c":"b","v":14.5},{"p":"G-CSF","g":"Elderly","c":"b","v":15.5},{"p":"G-CSF","g":"Elderly","c":"b","v":16.5},{"p":"G-CSF","g":"Elderly","c":"b","v":17.5},{"p":"G-CSF","g":"Elderly","c":"b","v":18.5},{"p":"G-CSF","g":"Elderly","c":"b","v":19.5},{"p":"G-CSF","g":"Elderly","c":"b","v":21},{"p":"G-CSF","g":"Elderly","c":"b","v":24},{"p":"G-CSF","g":"Elderly","c":"b","v":30},{"p":"G-CSF","g":"Elderly","c":"b","v":40},
{"p":"GM-CSF","g":"Children","c":"a","v":191},{"p":"GM-CSF","g":"Children","c":"a","v":125},{"p":"GM-CSF","g":"Children","c":"a","v":100},{"p":"GM-CSF","g":"Children","c":"a","v":90},{"p":"GM-CSF","g":"Children","c":"a","v":80},
{"p":"GM-CSF","g":"Children","c":"b","v":29},{"p":"GM-CSF","g":"Children","c":"b","v":38},{"p":"GM-CSF","g":"Children","c":"b","v":45},{"p":"GM-CSF","g":"Children","c":"b","v":52},{"p":"GM-CSF","g":"Children","c":"b","v":60},{"p":"GM-CSF","g":"Children","c":"b","v":68},{"p":"GM-CSF","g":"Children","c":"b","v":76},{"p":"GM-CSF","g":"Children","c":"b","v":88},
{"p":"GM-CSF","g":"Elderly","c":"a","v":300},{"p":"GM-CSF","g":"Elderly","c":"a","v":230},{"p":"GM-CSF","g":"Elderly","c":"a","v":190},{"p":"GM-CSF","g":"Elderly","c":"a","v":150},{"p":"GM-CSF","g":"Elderly","c":"a","v":130},{"p":"GM-CSF","g":"Elderly","c":"a","v":110},{"p":"GM-CSF","g":"Elderly","c":"a","v":95},{"p":"GM-CSF","g":"Elderly","c":"a","v":85},{"p":"GM-CSF","g":"Elderly","c":"a","v":75},
{"p":"GM-CSF","g":"Elderly","c":"b","v":25},{"p":"GM-CSF","g":"Elderly","c":"b","v":35},{"p":"GM-CSF","g":"Elderly","c":"b","v":45},{"p":"GM-CSF","g":"Elderly","c":"b","v":55},{"p":"GM-CSF","g":"Elderly","c":"b","v":60},{"p":"GM-CSF","g":"Elderly","c":"b","v":64},{"p":"GM-CSF","g":"Elderly","c":"b","v":68},{"p":"GM-CSF","g":"Elderly","c":"b","v":72},{"p":"GM-CSF","g":"Elderly","c":"b","v":75},{"p":"GM-CSF","g":"Elderly","c":"b","v":78},{"p":"GM-CSF","g":"Elderly","c":"b","v":82},{"p":"GM-CSF","g":"Elderly","c":"b","v":86},{"p":"GM-CSF","g":"Elderly","c":"b","v":90},{"p":"GM-CSF","g":"Elderly","c":"b","v":94},{"p":"GM-CSF","g":"Elderly","c":"b","v":98},{"p":"GM-CSF","g":"Elderly","c":"b","v":105},{"p":"GM-CSF","g":"Elderly","c":"b","v":115},{"p":"GM-CSF","g":"Elderly","c":"b","v":125},
{"p":"IL-33","g":"Children","c":"a","v":32.7},{"p":"IL-33","g":"Children","c":"a","v":28.5},{"p":"IL-33","g":"Children","c":"a","v":27},{"p":"IL-33","g":"Children","c":"a","v":25.5},{"p":"IL-33","g":"Children","c":"a","v":24},{"p":"IL-33","g":"Children","c":"a","v":23},
{"p":"IL-33","g":"Children","c":"b","v":16.4},{"p":"IL-33","g":"Children","c":"b","v":18},{"p":"IL-33","g":"Children","c":"b","v":20},{"p":"IL-33","g":"Children","c":"b","v":21.5},{"p":"IL-33","g":"Children","c":"b","v":23},{"p":"IL-33","g":"Children","c":"b","v":25},{"p":"IL-33","g":"Children","c":"b","v":28},
{"p":"IL-33","g":"Elderly","c":"a","v":36},{"p":"IL-33","g":"Elderly","c":"a","v":30},{"p":"IL-33","g":"Elderly","c":"a","v":27},{"p":"IL-33","g":"Elderly","c":"a","v":25},{"p":"IL-33","g":"Elderly","c":"a","v":23},{"p":"IL-33","g":"Elderly","c":"a","v":21},{"p":"IL-33","g":"Elderly","c":"a","v":19},
{"p":"IL-33","g":"Elderly","c":"b","v":12.8},{"p":"IL-33","g":"Elderly","c":"b","v":13.5},{"p":"IL-33","g":"Elderly","c":"b","v":14},{"p":"IL-33","g":"Elderly","c":"b","v":14.5},{"p":"IL-33","g":"Elderly","c":"b","v":15},{"p":"IL-33","g":"Elderly","c":"b","v":15.5},{"p":"IL-33","g":"Elderly","c":"b","v":16},{"p":"IL-33","g":"Elderly","c":"b","v":16.5},{"p":"IL-33","g":"Elderly","c":"b","v":17},{"p":"IL-33","g":"Elderly","c":"b","v":17.5},{"p":"IL-33","g":"Elderly","c":"b","v":18.5},{"p":"IL-33","g":"Elderly","c":"b","v":19.5},{"p":"IL-33","g":"Elderly","c":"b","v":20.5},{"p":"IL-33","g":"Elderly","c":"b","v":22},{"p":"IL-33","g":"Elderly","c":"b","v":24},{"p":"IL-33","g":"Elderly","c":"b","v":26},{"p":"IL-33","g":"Elderly","c":"b","v":27},{"p":"IL-33","g":"Elderly","c":"b","v":29},{"p":"IL-33","g":"Elderly","c":"b","v":31},{"p":"IL-33","g":"Elderly","c":"b","v":33},{"p":"IL-33","g":"Elderly","c":"b","v":35},{"p":"IL-33","g":"Elderly","c":"b","v":37},{"p":"IL-33","g":"Elderly","c":"b","v":39},
{"p":"IL-1Rα","g":"Children","c":"a","v":609},{"p":"IL-1Rα","g":"Children","c":"a","v":540},{"p":"IL-1Rα","g":"Children","c":"a","v":480},{"p":"IL-1Rα","g":"Children","c":"a","v":440},{"p":"IL-1Rα","g":"Children","c":"a","v":400},
{"p":"IL-1Rα","g":"Children","c":"b","v":328},{"p":"IL-1Rα","g":"Children","c":"b","v":360},{"p":"IL-1Rα","g":"Children","c":"b","v":390},{"p":"IL-1Rα","g":"Children","c":"b","v":420},{"p":"IL-1Rα","g":"Children","c":"b","v":450},{"p":"IL-1Rα","g":"Children","c":"b","v":490},{"p":"IL-1Rα","g":"Children","c":"b","v":530},
{"p":"IL-1Rα","g":"Elderly","c":"a","v":2600},{"p":"IL-1Rα","g":"Elderly","c":"a","v":2300},{"p":"IL-1Rα","g":"Elderly","c":"a","v":2000},{"p":"IL-1Rα","g":"Elderly","c":"a","v":1700},{"p":"IL-1Rα","g":"Elderly","c":"a","v":1450},{"p":"IL-1Rα","g":"Elderly","c":"a","v":1250},{"p":"IL-1Rα","g":"Elderly","c":"a","v":1050},{"p":"IL-1Rα","g":"Elderly","c":"a","v":850},{"p":"IL-1Rα","g":"Elderly","c":"a","v":650},
{"p":"IL-1Rα","g":"Elderly","c":"b","v":160},{"p":"IL-1Rα","g":"Elderly","c":"b","v":200},{"p":"IL-1Rα","g":"Elderly","c":"b","v":260},{"p":"IL-1Rα","g":"Elderly","c":"b","v":330},{"p":"IL-1Rα","g":"Elderly","c":"b","v":420},{"p":"IL-1Rα","g":"Elderly","c":"b","v":520},{"p":"IL-1Rα","g":"Elderly","c":"b","v":600},{"p":"IL-1Rα","g":"Elderly","c":"b","v":700},{"p":"IL-1Rα","g":"Elderly","c":"b","v":800},{"p":"IL-1Rα","g":"Elderly","c":"b","v":900},{"p":"IL-1Rα","g":"Elderly","c":"b","v":1000},{"p":"IL-1Rα","g":"Elderly","c":"b","v":1100},{"p":"IL-1Rα","g":"Elderly","c":"b","v":1200},{"p":"IL-1Rα","g":"Elderly","c":"b","v":1300},{"p":"IL-1Rα","g":"Elderly","c":"b","v":1400},{"p":"IL-1Rα","g":"Elderly","c":"b","v":1500},{"p":"IL-1Rα","g":"Elderly","c":"b","v":1650},{"p":"IL-1Rα","g":"Elderly","c":"b","v":1850},{"p":"IL-1Rα","g":"Elderly","c":"b","v":2100},{"p":"IL-1Rα","g":"Elderly","c":"b","v":2350},{"p":"IL-1Rα","g":"Elderly","c":"b","v":2625},
{"p":"IL-4","g":"Children","c":"a","v":13.4},{"p":"IL-4","g":"Children","c":"a","v":12.6},{"p":"IL-4","g":"Children","c":"a","v":11.8},{"p":"IL-4","g":"Children","c":"a","v":11},{"p":"IL-4","g":"Children","c":"a","v":10.3},
{"p":"IL-4","g":"Children","c":"b","v":2.7},{"p":"IL-4","g":"Children","c":"b","v":4.5},{"p":"IL-4","g":"Children","c":"b","v":5.5},{"p":"IL-4","g":"Children","c":"b","v":6.5},{"p":"IL-4","g":"Children","c":"b","v":7.5},{"p":"IL-4","g":"Children","c":"b","v":8.5},{"p":"IL-4","g":"Children","c":"b","v":9.3},{"p":"IL-4","g":"Children","c":"b","v":9.8},
{"p":"IL-4","g":"Elderly","c":"a","v":6.5},{"p":"IL-4","g":"Elderly","c":"a","v":5},{"p":"IL-4","g":"Elderly","c":"a","v":4},{"p":"IL-4","g":"Elderly","c":"a","v":3},{"p":"IL-4","g":"Elderly","c":"a","v":2},{"p":"IL-4","g":"Elderly","c":"a","v":1.2},
{"p":"IL-4","g":"Elderly","c":"b","v":0.47},{"p":"IL-4","g":"Elderly","c":"b","v":0.6},{"p":"IL-4","g":"Elderly","c":"b","v":0.8},{"p":"IL-4","g":"Elderly","c":"b","v":1},{"p":"IL-4","g":"Elderly","c":"b","v":1.2},{"p":"IL-4","g":"Elderly","c":"b","v":1.4},{"p":"IL-4","g":"Elderly","c":"b","v":1.7},{"p":"IL-4","g":"Elderly","c":"b","v":2},{"p":"IL-4","g":"Elderly","c":"b","v":2.3},{"p":"IL-4","g":"Elderly","c":"b","v":2.7},{"p":"IL-4","g":"Elderly","c":"b","v":3},{"p":"IL-4","g":"Elderly","c":"b","v":3.2},{"p":"IL-4","g":"Elderly","c":"b","v":3.5},{"p":"IL-4","g":"Elderly","c":"b","v":3.9},{"p":"IL-4","g":"Elderly","c":"b","v":4.3},{"p":"IL-4","g":"Elderly","c":"b","v":4.7},{"p":"IL-4","g":"Elderly","c":"b","v":5.1},{"p":"IL-4","g":"Elderly","c":"b","v":5.8},{"p":"IL-4","g":"Elderly","c":"b","v":6.8},{"p":"IL-4","g":"Elderly","c":"b","v":7.8},{"p":"IL-4","g":"Elderly","c":"b","v":9},{"p":"IL-4","g":"Elderly","c":"b","v":10.5},{"p":"IL-4","g":"Elderly","c":"b","v":12.3},
{"p":"IL-5","g":"Children","c":"a","v":30.4},{"p":"IL-5","g":"Children","c":"a","v":29.5},{"p":"IL-5","g":"Children","c":"a","v":28.8},{"p":"IL-5","g":"Children","c":"a","v":28.2},{"p":"IL-5","g":"Children","c":"a","v":27.6},{"p":"IL-5","g":"Children","c":"a","v":27},
{"p":"IL-5","g":"Children","c":"b","v":13},{"p":"IL-5","g":"Children","c":"b","v":16},{"p":"IL-5","g":"Children","c":"b","v":18.5},{"p":"IL-5","g":"Children","c":"b","v":20},{"p":"IL-5","g":"Children","c":"b","v":22},{"p":"IL-5","g":"Children","c":"b","v":24.5},
{"p":"IL-5","g":"Elderly","c":"a","v":21},{"p":"IL-5","g":"Elderly","c":"a","v":19.5},{"p":"IL-5","g":"Elderly","c":"a","v":17},{"p":"IL-5","g":"Elderly","c":"a","v":15},{"p":"IL-5","g":"Elderly","c":"a","v":13},{"p":"IL-5","g":"Elderly","c":"a","v":11},
{"p":"IL-5","g":"Elderly","c":"b","v":6.5},{"p":"IL-5","g":"Elderly","c":"b","v":7.2},{"p":"IL-5","g":"Elderly","c":"b","v":8},{"p":"IL-5","g":"Elderly","c":"b","v":8.5},{"p":"IL-5","g":"Elderly","c":"b","v":9.2},{"p":"IL-5","g":"Elderly","c":"b","v":9.9},{"p":"IL-5","g":"Elderly","c":"b","v":10.5},{"p":"IL-5","g":"Elderly","c":"b","v":11.2},{"p":"IL-5","g":"Elderly","c":"b","v":12},{"p":"IL-5","g":"Elderly","c":"b","v":13},{"p":"IL-5","g":"Elderly","c":"b","v":14},{"p":"IL-5","g":"Elderly","c":"b","v":14.3},{"p":"IL-5","g":"Elderly","c":"b","v":15},{"p":"IL-5","g":"Elderly","c":"b","v":16},{"p":"IL-5","g":"Elderly","c":"b","v":17.5},{"p":"IL-5","g":"Elderly","c":"b","v":19},{"p":"IL-5","g":"Elderly","c":"b","v":20},{"p":"IL-5","g":"Elderly","c":"b","v":21},{"p":"IL-5","g":"Elderly","c":"b","v":22.5},{"p":"IL-5","g":"Elderly","c":"b","v":24},{"p":"IL-5","g":"Elderly","c":"b","v":26},{"p":"IL-5","g":"Elderly","c":"b","v":28},{"p":"IL-5","g":"Elderly","c":"b","v":29.8},
{"p":"IL-13","g":"Children","c":"a","v":47.8},{"p":"IL-13","g":"Children","c":"a","v":48.1},{"p":"IL-13","g":"Children","c":"a","v":48.3},{"p":"IL-13","g":"Children","c":"a","v":48.4},{"p":"IL-13","g":"Children","c":"a","v":48.6},
{"p":"IL-13","g":"Children","c":"b","v":47.1},{"p":"IL-13","g":"Children","c":"b","v":47.6},{"p":"IL-13","g":"Children","c":"b","v":48.2},{"p":"IL-13","g":"Children","c":"b","v":48.5},{"p":"IL-13","g":"Children","c":"b","v":48.8},{"p":"IL-13","g":"Children","c":"b","v":49.2},{"p":"IL-13","g":"Children","c":"b","v":49.9},
{"p":"IL-13","g":"Elderly","c":"a","v":50.5},{"p":"IL-13","g":"Elderly","c":"a","v":49.8},{"p":"IL-13","g":"Elderly","c":"a","v":49.4},{"p":"IL-13","g":"Elderly","c":"a","v":49},{"p":"IL-13","g":"Elderly","c":"a","v":48.7},
{"p":"IL-13","g":"Elderly","c":"b","v":46.05},{"p":"IL-13","g":"Elderly","c":"b","v":46.6},{"p":"IL-13","g":"Elderly","c":"b","v":47.1},{"p":"IL-13","g":"Elderly","c":"b","v":47.6},{"p":"IL-13","g":"Elderly","c":"b","v":48.1},{"p":"IL-13","g":"Elderly","c":"b","v":48.5},{"p":"IL-13","g":"Elderly","c":"b","v":48.7},{"p":"IL-13","g":"Elderly","c":"b","v":48.9},{"p":"IL-13","g":"Elderly","c":"b","v":49.1},{"p":"IL-13","g":"Elderly","c":"b","v":49.2},{"p":"IL-13","g":"Elderly","c":"b","v":49.3},{"p":"IL-13","g":"Elderly","c":"b","v":49.5},{"p":"IL-13","g":"Elderly","c":"b","v":49.7},{"p":"IL-13","g":"Elderly","c":"b","v":49.9},{"p":"IL-13","g":"Elderly","c":"b","v":50.2},{"p":"IL-13","g":"Elderly","c":"b","v":50.6},{"p":"IL-13","g":"Elderly","c":"b","v":51.1},{"p":"IL-13","g":"Elderly","c":"b","v":51.7},{"p":"IL-13","g":"Elderly","c":"b","v":52.3},{"p":"IL-13","g":"Elderly","c":"b","v":52.9},{"p":"IL-13","g":"Elderly","c":"b","v":53.5},{"p":"IL-13","g":"Elderly","c":"b","v":53.9},
{"p":"IL-10","g":"Children","c":"a","v":30},{"p":"IL-10","g":"Children","c":"a","v":45},{"p":"IL-10","g":"Children","c":"a","v":55},{"p":"IL-10","g":"Children","c":"a","v":65},{"p":"IL-10","g":"Children","c":"a","v":75},
{"p":"IL-10","g":"Children","c":"b","v":25},{"p":"IL-10","g":"Children","c":"b","v":40},{"p":"IL-10","g":"Children","c":"b","v":50},{"p":"IL-10","g":"Children","c":"b","v":60},{"p":"IL-10","g":"Children","c":"b","v":70},{"p":"IL-10","g":"Children","c":"b","v":85},{"p":"IL-10","g":"Children","c":"b","v":100},{"p":"IL-10","g":"Children","c":"b","v":130},
{"p":"IL-10","g":"Elderly","c":"a","v":591},{"p":"IL-10","g":"Elderly","c":"a","v":520},{"p":"IL-10","g":"Elderly","c":"a","v":440},{"p":"IL-10","g":"Elderly","c":"a","v":380},{"p":"IL-10","g":"Elderly","c":"a","v":320},{"p":"IL-10","g":"Elderly","c":"a","v":270},{"p":"IL-10","g":"Elderly","c":"a","v":220},{"p":"IL-10","g":"Elderly","c":"a","v":180},
{"p":"IL-10","g":"Elderly","c":"b","v":12},{"p":"IL-10","g":"Elderly","c":"b","v":30},{"p":"IL-10","g":"Elderly","c":"b","v":50},{"p":"IL-10","g":"Elderly","c":"b","v":70},{"p":"IL-10","g":"Elderly","c":"b","v":90},{"p":"IL-10","g":"Elderly","c":"b","v":105},{"p":"IL-10","g":"Elderly","c":"b","v":119},{"p":"IL-10","g":"Elderly","c":"b","v":125},{"p":"IL-10","g":"Elderly","c":"b","v":131},{"p":"IL-10","g":"Elderly","c":"b","v":137},{"p":"IL-10","g":"Elderly","c":"b","v":143},{"p":"IL-10","g":"Elderly","c":"b","v":149},{"p":"IL-10","g":"Elderly","c":"b","v":155},{"p":"IL-10","g":"Elderly","c":"b","v":162},{"p":"IL-10","g":"Elderly","c":"b","v":170},{"p":"IL-10","g":"Elderly","c":"b","v":180},{"p":"IL-10","g":"Elderly","c":"b","v":190},{"p":"IL-10","g":"Elderly","c":"b","v":200},{"p":"IL-10","g":"Elderly","c":"b","v":215},{"p":"IL-10","g":"Elderly","c":"b","v":230},{"p":"IL-10","g":"Elderly","c":"b","v":241},{"p":"IL-10","g":"Elderly","c":"b","v":260},{"p":"IL-10","g":"Elderly","c":"b","v":300},
{"p":"IL-25","g":"Children","c":"a","v":51.1},{"p":"IL-25","g":"Children","c":"a","v":52},{"p":"IL-25","g":"Children","c":"a","v":53},{"p":"IL-25","g":"Children","c":"a","v":53.5},{"p":"IL-25","g":"Children","c":"a","v":54},
{"p":"IL-25","g":"Children","c":"b","v":53},{"p":"IL-25","g":"Children","c":"b","v":53.8},{"p":"IL-25","g":"Children","c":"b","v":54.5},{"p":"IL-25","g":"Children","c":"b","v":55},{"p":"IL-25","g":"Children","c":"b","v":55.6},{"p":"IL-25","g":"Children","c":"b","v":56.2},{"p":"IL-25","g":"Children","c":"b","v":56.6},
{"p":"IL-25","g":"Elderly","c":"a","v":57.8},{"p":"IL-25","g":"Elderly","c":"a","v":54.6},{"p":"IL-25","g":"Elderly","c":"a","v":51.5},{"p":"IL-25","g":"Elderly","c":"a","v":48.5},{"p":"IL-25","g":"Elderly","c":"a","v":45.8},{"p":"IL-25","g":"Elderly","c":"a","v":44.3},
{"p":"IL-25","g":"Elderly","c":"b","v":45.8},{"p":"IL-25","g":"Elderly","c":"b","v":45.8},{"p":"IL-25","g":"Elderly","c":"b","v":45.8},{"p":"IL-25","g":"Elderly","c":"b","v":47.3},{"p":"IL-25","g":"Elderly","c":"b","v":47.3},{"p":"IL-25","g":"Elderly","c":"b","v":47.3},{"p":"IL-25","g":"Elderly","c":"b","v":47.3},{"p":"IL-25","g":"Elderly","c":"b","v":48.5},{"p":"IL-25","g":"Elderly","c":"b","v":48.5},{"p":"IL-25","g":"Elderly","c":"b","v":48.5},{"p":"IL-25","g":"Elderly","c":"b","v":49.5},{"p":"IL-25","g":"Elderly","c":"b","v":49.5},{"p":"IL-25","g":"Elderly","c":"b","v":49.9},{"p":"IL-25","g":"Elderly","c":"b","v":49.9},{"p":"IL-25","g":"Elderly","c":"b","v":51.5},{"p":"IL-25","g":"Elderly","c":"b","v":51.5},{"p":"IL-25","g":"Elderly","c":"b","v":53},{"p":"IL-25","g":"Elderly","c":"b","v":53},{"p":"IL-25","g":"Elderly","c":"b","v":53},{"p":"IL-25","g":"Elderly","c":"b","v":54.6},{"p":"IL-25","g":"Elderly","c":"b","v":54.6},{"p":"IL-25","g":"Elderly","c":"b","v":54.6},{"p":"IL-25","g":"Elderly","c":"b","v":56.3},{"p":"IL-25","g":"Elderly","c":"b","v":56.3}
]},
"vconcat":[
{"transform":[{"filter":{"field":"p","oneOf":["IFNγ","TNFα","IL-2","IL-1α","IL-1β"]}}],
 "facet":{"column":{"field":"p","title":null,"sort":["IFNγ","TNFα","IL-2","IL-1α","IL-1β"]}},
 "spacing":47,
 "resolve":{"scale":{"y":"independent"}},
 "spec":{"width":70,"height":107,
  "encoding":{"x":{"field":"g","type":"nominal","title":null,"scale":{"domain":["Children","Elderly"],"paddingInner":0,"paddingOuter":0.13}}},
  "layer":[
   {"transform":[{"filter":"isValid(datum.d1)"}],"mark":{"type":"rule","opacity":0},"encoding":{"x":{"value":0},"y":{"field":"d0","type":"quantitative","title":"Concentration (pg/ml)","scale":{"zero":false,"nice":false}},"y2":{"field":"d1"}}},
   {"transform":[{"filter":"isValid(datum.q1)"}],"mark":{"type":"rule","color":"#7a7a7a","strokeWidth":1},"encoding":{"y":{"field":"lo","type":"quantitative","title":"Concentration (pg/ml)"},"y2":{"field":"hi"}}},
   {"transform":[{"filter":"isValid(datum.q1)"}],"mark":{"type":"bar","width":21,"fill":"#F8F27A","stroke":"#8C8C8C","strokeWidth":1},"encoding":{"y":{"field":"q1","type":"quantitative","title":"Concentration (pg/ml)"},"y2":{"field":"q3"}}},
   {"transform":[{"filter":"isValid(datum.q1)"}],"mark":{"type":"tick","size":8,"thickness":1,"color":"#7a7a7a"},"encoding":{"y":{"field":"lo","type":"quantitative","title":"Concentration (pg/ml)"}}},
   {"transform":[{"filter":"isValid(datum.q1)"}],"mark":{"type":"tick","size":8,"thickness":1,"color":"#7a7a7a"},"encoding":{"y":{"field":"hi","type":"quantitative","title":"Concentration (pg/ml)"}}},
   {"transform":[{"filter":"isValid(datum.q1)"}],"mark":{"type":"tick","size":21,"thickness":1.5,"color":"#6B6845"},"encoding":{"y":{"field":"md","type":"quantitative","title":"Concentration (pg/ml)"}}},
   {"transform":[{"filter":"isValid(datum.v)"},{"window":[{"op":"row_number","as":"rn"}],"groupby":["p","g"],"sort":[{"field":"v"}]},{"calculate":"((datum.rn*datum.rn*7+datum.rn*3)%11)-5","as":"j"}],"mark":{"type":"circle","size":22,"strokeWidth":0.7,"opacity":1},"encoding":{"xOffset":{"field":"j","type":"quantitative","scale":{"domain":[-5,5],"range":[4.5,26.5]}},"y":{"field":"v","type":"quantitative","title":"Concentration (pg/ml)"},"fill":{"condition":[{"test":"datum.g=='Children'&&datum.c=='a'","value":"#8B1A1A"},{"test":"datum.g=='Children'","value":"#D47BDC"},{"test":"datum.c=='a'","value":"#1C3CA8"}],"value":"#5AB6DF"},"stroke":{"condition":[{"test":"datum.g=='Children'&&datum.c=='a'","value":"#5C1010"},{"test":"datum.g=='Children'","value":"#B455C2"},{"test":"datum.c=='a'","value":"#0E2272"}],"value":"#1F5A88"}}},
   {"transform":[{"filter":"isValid(datum.b)"}],"mark":{"type":"rule","color":"#555","strokeWidth":1},"encoding":{"x":{"datum":"Children"},"x2":{"datum":"Elderly"},"y":{"field":"b","type":"quantitative","title":"Concentration (pg/ml)"}}},
   {"transform":[{"filter":"isValid(datum.b)"}],"mark":{"type":"tick","orient":"vertical","size":6,"thickness":1,"color":"#555"},"encoding":{"x":{"datum":"Children"},"y":{"field":"b","type":"quantitative","title":"Concentration (pg/ml)"}}},
   {"transform":[{"filter":"isValid(datum.b)"}],"mark":{"type":"tick","orient":"vertical","size":6,"thickness":1,"color":"#555"},"encoding":{"x":{"datum":"Elderly"},"y":{"field":"b","type":"quantitative","title":"Concentration (pg/ml)"}}},
   {"transform":[{"filter":"isValid(datum.b)"}],"mark":{"type":"text","dy":-8,"fontSize":9.5,"color":"#222"},"encoding":{"x":{"datum":"Elderly","bandPosition":0},"y":{"field":"b","type":"quantitative","title":"Concentration (pg/ml)"},"text":{"field":"t"}}}
  ]}},
{"transform":[{"filter":{"field":"p","oneOf":["IFN-α","IFN-β","IL-6","IL-12","IL-15","IL-17A"]}}],
 "facet":{"column":{"field":"p","title":null,"sort":["IFN-α","IFN-β","IL-6","IL-12","IL-15","IL-17A"]}},
 "spacing":14,
 "resolve":{"scale":{"y":"independent"}},
 "spec":{"width":70,"height":107,
  "encoding":{"x":{"field":"g","type":"nominal","title":null,"scale":{"domain":["Children","Elderly"],"paddingInner":0,"paddingOuter":0.13}}},
  "layer":[
   {"transform":[{"filter":"isValid(datum.d1)"}],"mark":{"type":"rule","opacity":0},"encoding":{"x":{"value":0},"y":{"field":"d0","type":"quantitative","title":"Concentration (pg/ml)","scale":{"zero":false,"nice":false}},"y2":{"field":"d1"}}},
   {"transform":[{"filter":"isValid(datum.q1)"}],"mark":{"type":"rule","color":"#7a7a7a","strokeWidth":1},"encoding":{"y":{"field":"lo","type":"quantitative","title":"Concentration (pg/ml)"},"y2":{"field":"hi"}}},
   {"transform":[{"filter":"isValid(datum.q1)"}],"mark":{"type":"bar","width":21,"fill":"#F8F27A","stroke":"#8C8C8C","strokeWidth":1},"encoding":{"y":{"field":"q1","type":"quantitative","title":"Concentration (pg/ml)"},"y2":{"field":"q3"}}},
   {"transform":[{"filter":"isValid(datum.q1)"}],"mark":{"type":"tick","size":8,"thickness":1,"color":"#7a7a7a"},"encoding":{"y":{"field":"lo","type":"quantitative","title":"Concentration (pg/ml)"}}},
   {"transform":[{"filter":"isValid(datum.q1)"}],"mark":{"type":"tick","size":8,"thickness":1,"color":"#7a7a7a"},"encoding":{"y":{"field":"hi","type":"quantitative","title":"Concentration (pg/ml)"}}},
   {"transform":[{"filter":"isValid(datum.q1)"}],"mark":{"type":"tick","size":21,"thickness":1.5,"color":"#6B6845"},"encoding":{"y":{"field":"md","type":"quantitative","title":"Concentration (pg/ml)"}}},
   {"transform":[{"filter":"isValid(datum.v)"},{"window":[{"op":"row_number","as":"rn"}],"groupby":["p","g"],"sort":[{"field":"v"}]},{"calculate":"((datum.rn*datum.rn*7+datum.rn*3)%11)-5","as":"j"}],"mark":{"type":"circle","size":22,"strokeWidth":0.7,"opacity":1},"encoding":{"xOffset":{"field":"j","type":"quantitative","scale":{"domain":[-5,5],"range":[4.5,26.5]}},"y":{"field":"v","type":"quantitative","title":"Concentration (pg/ml)"},"fill":{"condition":[{"test":"datum.g=='Children'&&datum.c=='a'","value":"#8B1A1A"},{"test":"datum.g=='Children'","value":"#D47BDC"},{"test":"datum.c=='a'","value":"#1C3CA8"}],"value":"#5AB6DF"},"stroke":{"condition":[{"test":"datum.g=='Children'&&datum.c=='a'","value":"#5C1010"},{"test":"datum.g=='Children'","value":"#B455C2"},{"test":"datum.c=='a'","value":"#0E2272"}],"value":"#1F5A88"}}},
   {"transform":[{"filter":"isValid(datum.b)"}],"mark":{"type":"rule","color":"#555","strokeWidth":1},"encoding":{"x":{"datum":"Children"},"x2":{"datum":"Elderly"},"y":{"field":"b","type":"quantitative","title":"Concentration (pg/ml)"}}},
   {"transform":[{"filter":"isValid(datum.b)"}],"mark":{"type":"tick","orient":"vertical","size":6,"thickness":1,"color":"#555"},"encoding":{"x":{"datum":"Children"},"y":{"field":"b","type":"quantitative","title":"Concentration (pg/ml)"}}},
   {"transform":[{"filter":"isValid(datum.b)"}],"mark":{"type":"tick","orient":"vertical","size":6,"thickness":1,"color":"#555"},"encoding":{"x":{"datum":"Elderly"},"y":{"field":"b","type":"quantitative","title":"Concentration (pg/ml)"}}},
   {"transform":[{"filter":"isValid(datum.b)"}],"mark":{"type":"text","dy":-8,"fontSize":9.5,"color":"#222"},"encoding":{"x":{"datum":"Elderly","bandPosition":0},"y":{"field":"b","type":"quantitative","title":"Concentration (pg/ml)"},"text":{"field":"t"}}}
  ]}},
{"transform":[{"filter":{"field":"p","oneOf":["IL-3","IL-7","G-CSF","GM-CSF","IL-33","IL-1Rα"]}}],
 "facet":{"column":{"field":"p","title":null,"sort":["IL-3","IL-7","G-CSF","GM-CSF","IL-33","IL-1Rα"]}},
 "spacing":12,
 "resolve":{"scale":{"y":"independent"}},
 "spec":{"width":70,"height":107,
  "encoding":{"x":{"field":"g","type":"nominal","title":null,"scale":{"domain":["Children","Elderly"],"paddingInner":0,"paddingOuter":0.13}}},
  "layer":[
   {"transform":[{"filter":"isValid(datum.d1)"}],"mark":{"type":"rule","opacity":0},"encoding":{"x":{"value":0},"y":{"field":"d0","type":"quantitative","title":"Concentration (pg/ml)","scale":{"zero":false,"nice":false}},"y2":{"field":"d1"}}},
   {"transform":[{"filter":"isValid(datum.q1)"}],"mark":{"type":"rule","color":"#7a7a7a","strokeWidth":1},"encoding":{"y":{"field":"lo","type":"quantitative","title":"Concentration (pg/ml)"},"y2":{"field":"hi"}}},
   {"transform":[{"filter":"isValid(datum.q1)"}],"mark":{"type":"bar","width":21,"fill":"#F8F27A","stroke":"#8C8C8C","strokeWidth":1},"encoding":{"y":{"field":"q1","type":"quantitative","title":"Concentration (pg/ml)"},"y2":{"field":"q3"}}},
   {"transform":[{"filter":"isValid(datum.q1)"}],"mark":{"type":"tick","size":8,"thickness":1,"color":"#7a7a7a"},"encoding":{"y":{"field":"lo","type":"quantitative","title":"Concentration (pg/ml)"}}},
   {"transform":[{"filter":"isValid(datum.q1)"}],"mark":{"type":"tick","size":8,"thickness":1,"color":"#7a7a7a"},"encoding":{"y":{"field":"hi","type":"quantitative","title":"Concentration (pg/ml)"}}},
   {"transform":[{"filter":"isValid(datum.q1)"}],"mark":{"type":"tick","size":21,"thickness":1.5,"color":"#6B6845"},"encoding":{"y":{"field":"md","type":"quantitative","title":"Concentration (pg/ml)"}}},
   {"transform":[{"filter":"isValid(datum.v)"},{"window":[{"op":"row_number","as":"rn"}],"groupby":["p","g"],"sort":[{"field":"v"}]},{"calculate":"((datum.rn*datum.rn*7+datum.rn*3)%11)-5","as":"j"}],"mark":{"type":"circle","size":22,"strokeWidth":0.7,"opacity":1},"encoding":{"xOffset":{"field":"j","type":"quantitative","scale":{"domain":[-5,5],"range":[4.5,26.5]}},"y":{"field":"v","type":"quantitative","title":"Concentration (pg/ml)"},"fill":{"condition":[{"test":"datum.g=='Children'&&datum.c=='a'","value":"#8B1A1A"},{"test":"datum.g=='Children'","value":"#D47BDC"},{"test":"datum.c=='a'","value":"#1C3CA8"}],"value":"#5AB6DF"},"stroke":{"condition":[{"test":"datum.g=='Children'&&datum.c=='a'","value":"#5C1010"},{"test":"datum.g=='Children'","value":"#B455C2"},{"test":"datum.c=='a'","value":"#0E2272"}],"value":"#1F5A88"}}},
   {"transform":[{"filter":"isValid(datum.b)"}],"mark":{"type":"rule","color":"#555","strokeWidth":1},"encoding":{"x":{"datum":"Children"},"x2":{"datum":"Elderly"},"y":{"field":"b","type":"quantitative","title":"Concentration (pg/ml)"}}},
   {"transform":[{"filter":"isValid(datum.b)"}],"mark":{"type":"tick","orient":"vertical","size":6,"thickness":1,"color":"#555"},"encoding":{"x":{"datum":"Children"},"y":{"field":"b","type":"quantitative","title":"Concentration (pg/ml)"}}},
   {"transform":[{"filter":"isValid(datum.b)"}],"mark":{"type":"tick","orient":"vertical","size":6,"thickness":1,"color":"#555"},"encoding":{"x":{"datum":"Elderly"},"y":{"field":"b","type":"quantitative","title":"Concentration (pg/ml)"}}},
   {"transform":[{"filter":"isValid(datum.b)"}],"mark":{"type":"text","dy":-8,"fontSize":9.5,"color":"#222"},"encoding":{"x":{"datum":"Elderly","bandPosition":0},"y":{"field":"b","type":"quantitative","title":"Concentration (pg/ml)"},"text":{"field":"t"}}}
  ]}},
{"transform":[{"filter":{"field":"p","oneOf":["IL-4","IL-5","IL-13","IL-10","IL-25"]}}],
 "facet":{"column":{"field":"p","title":null,"sort":["IL-4","IL-5","IL-13","IL-10","IL-25"]}},
 "spacing":42,
 "resolve":{"scale":{"y":"independent"}},
 "spec":{"width":70,"height":107,
  "encoding":{"x":{"field":"g","type":"nominal","title":null,"scale":{"domain":["Children","Elderly"],"paddingInner":0,"paddingOuter":0.13}}},
  "layer":[
   {"transform":[{"filter":"isValid(datum.d1)"}],"mark":{"type":"rule","opacity":0},"encoding":{"x":{"value":0},"y":{"field":"d0","type":"quantitative","title":"Concentration (pg/ml)","scale":{"zero":false,"nice":false}},"y2":{"field":"d1"}}},
   {"transform":[{"filter":"isValid(datum.q1)"}],"mark":{"type":"rule","color":"#7a7a7a","strokeWidth":1},"encoding":{"y":{"field":"lo","type":"quantitative","title":"Concentration (pg/ml)"},"y2":{"field":"hi"}}},
   {"transform":[{"filter":"isValid(datum.q1)"}],"mark":{"type":"bar","width":21,"fill":"#F8F27A","stroke":"#8C8C8C","strokeWidth":1},"encoding":{"y":{"field":"q1","type":"quantitative","title":"Concentration (pg/ml)"},"y2":{"field":"q3"}}},
   {"transform":[{"filter":"isValid(datum.q1)"}],"mark":{"type":"tick","size":8,"thickness":1,"color":"#7a7a7a"},"encoding":{"y":{"field":"lo","type":"quantitative","title":"Concentration (pg/ml)"}}},
   {"transform":[{"filter":"isValid(datum.q1)"}],"mark":{"type":"tick","size":8,"thickness":1,"color":"#7a7a7a"},"encoding":{"y":{"field":"hi","type":"quantitative","title":"Concentration (pg/ml)"}}},
   {"transform":[{"filter":"isValid(datum.q1)"}],"mark":{"type":"tick","size":21,"thickness":1.5,"color":"#6B6845"},"encoding":{"y":{"field":"md","type":"quantitative","title":"Concentration (pg/ml)"}}},
   {"transform":[{"filter":"isValid(datum.v)"},{"window":[{"op":"row_number","as":"rn"}],"groupby":["p","g"],"sort":[{"field":"v"}]},{"calculate":"((datum.rn*datum.rn*7+datum.rn*3)%11)-5","as":"j"}],"mark":{"type":"circle","size":22,"strokeWidth":0.7,"opacity":1},"encoding":{"xOffset":{"field":"j","type":"quantitative","scale":{"domain":[-5,5],"range":[4.5,26.5]}},"y":{"field":"v","type":"quantitative","title":"Concentration (pg/ml)"},"fill":{"condition":[{"test":"datum.g=='Children'&&datum.c=='a'","value":"#8B1A1A"},{"test":"datum.g=='Children'","value":"#D47BDC"},{"test":"datum.c=='a'","value":"#1C3CA8"}],"value":"#5AB6DF"},"stroke":{"condition":[{"test":"datum.g=='Children'&&datum.c=='a'","value":"#5C1010"},{"test":"datum.g=='Children'","value":"#B455C2"},{"test":"datum.c=='a'","value":"#0E2272"}],"value":"#1F5A88"}}},
   {"transform":[{"filter":"isValid(datum.b)"}],"mark":{"type":"rule","color":"#555","strokeWidth":1},"encoding":{"x":{"datum":"Children"},"x2":{"datum":"Elderly"},"y":{"field":"b","type":"quantitative","title":"Concentration (pg/ml)"}}},
   {"transform":[{"filter":"isValid(datum.b)"}],"mark":{"type":"tick","orient":"vertical","size":6,"thickness":1,"color":"#555"},"encoding":{"x":{"datum":"Children"},"y":{"field":"b","type":"quantitative","title":"Concentration (pg/ml)"}}},
   {"transform":[{"filter":"isValid(datum.b)"}],"mark":{"type":"tick","orient":"vertical","size":6,"thickness":1,"color":"#555"},"encoding":{"x":{"datum":"Elderly"},"y":{"field":"b","type":"quantitative","title":"Concentration (pg/ml)"}}},
   {"transform":[{"filter":"isValid(datum.b)"}],"mark":{"type":"text","dy":-8,"fontSize":9.5,"color":"#222"},"encoding":{"x":{"datum":"Elderly","bandPosition":0},"y":{"field":"b","type":"quantitative","title":"Concentration (pg/ml)"},"text":{"field":"t"}}}
  ]}}
],
"config":{
 "font":"Liberation Sans",
 "numberFormat":"d",
 "view":{"stroke":null},
 "header":{"labelFontSize":11,"labelFontWeight":"bold","labelColor":"#000","labelPadding":4,"labelFont":"Liberation Sans"},
 "axis":{"domainColor":"#000","domainWidth":1.5,"tickColor":"#000","tickWidth":1.5,"tickSize":4,"labelFont":"Liberation Sans","labelFontWeight":"bold","labelFontSize":9,"labelColor":"#000","titleFont":"Liberation Sans","titleFontWeight":"bold","titleFontSize":10,"titleColor":"#000","grid":false},
 "axisY":{"tickCount":4,"titlePadding":1,"labelPadding":1},
 "axisX":{"labelAngle":-45,"labelPadding":1,"labelBaseline":"middle","labelFontSize":8.5}
}
}
